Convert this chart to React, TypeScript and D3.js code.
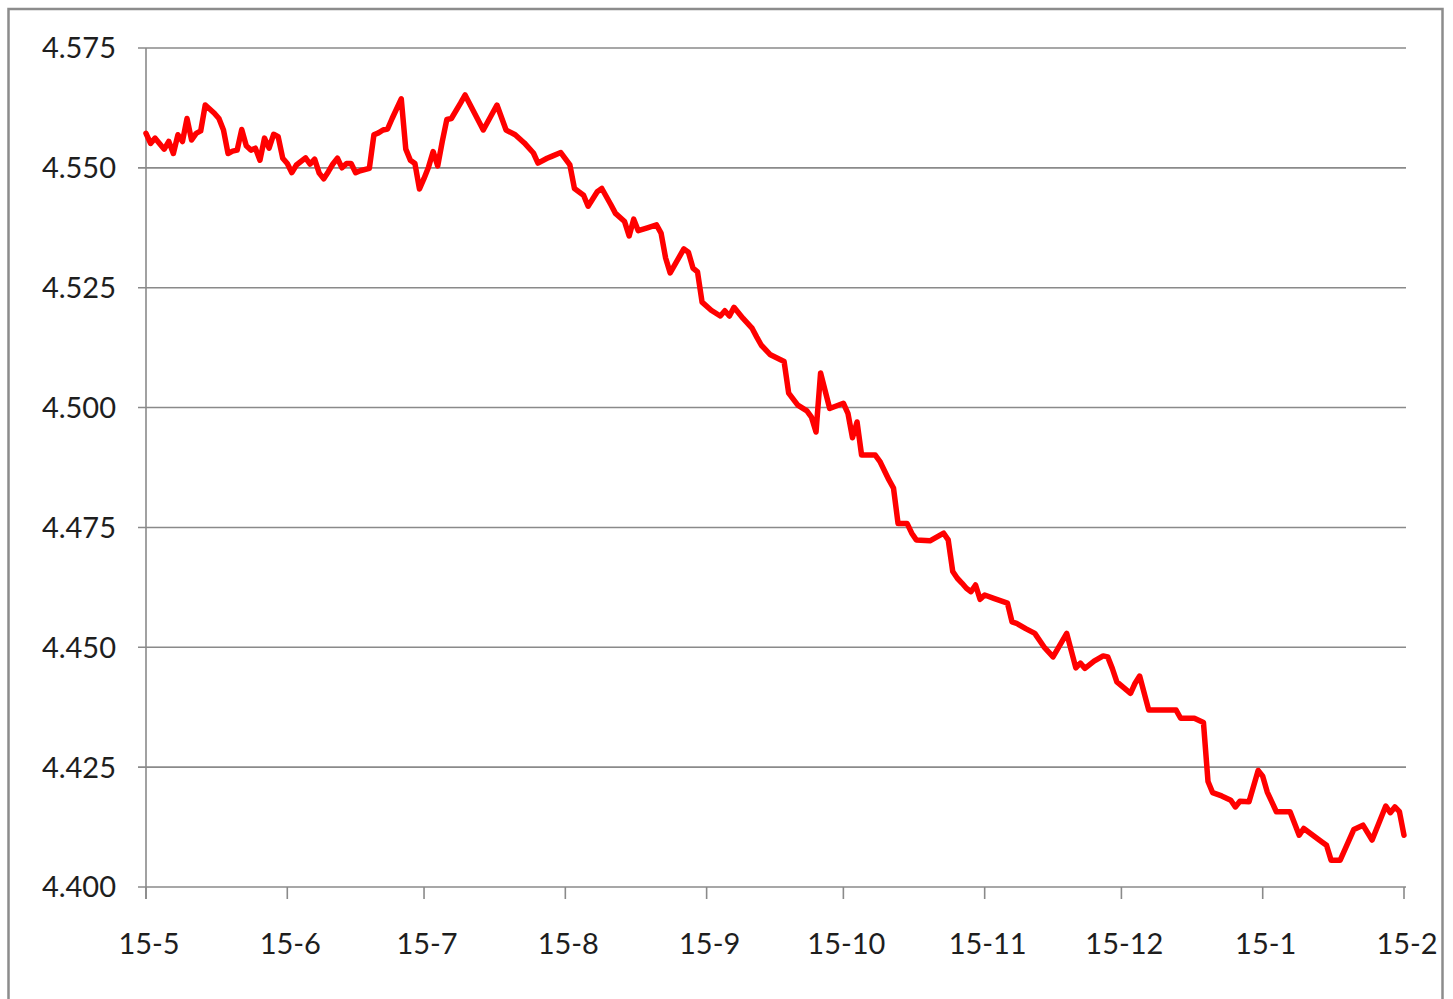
import { useEffect, useRef } from 'react';
import * as d3 from 'd3';

// daily values (2015-05 .. 2016-02)
const dates = [
  '2015-05-01', '2015-05-02', '2015-05-03', '2015-05-05', '2015-05-06', '2015-05-07', '2015-05-08', '2015-05-09',
  '2015-05-10', '2015-05-11', '2015-05-12', '2015-05-13', '2015-05-14', '2015-05-16', '2015-05-17', '2015-05-18',
  '2015-05-19', '2015-05-20', '2015-05-21', '2015-05-22', '2015-05-23', '2015-05-24', '2015-05-25', '2015-05-26',
  '2015-05-27', '2015-05-28', '2015-05-29', '2015-05-30', '2015-05-31', '2015-06-01', '2015-06-02', '2015-06-03',
  '2015-06-05', '2015-06-06', '2015-06-07', '2015-06-08', '2015-06-09', '2015-06-10', '2015-06-11', '2015-06-12',
  '2015-06-13', '2015-06-14', '2015-06-15', '2015-06-16', '2015-06-17', '2015-06-19', '2015-06-20', '2015-06-21',
  '2015-06-22', '2015-06-23', '2015-06-24', '2015-06-26', '2015-06-27', '2015-06-28', '2015-06-29', '2015-06-30',
  '2015-07-01', '2015-07-02', '2015-07-03', '2015-07-04', '2015-07-05', '2015-07-06', '2015-07-07', '2015-07-09',
  '2015-07-10', '2015-07-14', '2015-07-17', '2015-07-19', '2015-07-21', '2015-07-23', '2015-07-25', '2015-07-26',
  '2015-07-28', '2015-07-29', '2015-07-31', '2015-08-02', '2015-08-03', '2015-08-05', '2015-08-06', '2015-08-08',
  '2015-08-09', '2015-08-11', '2015-08-12', '2015-08-14', '2015-08-15', '2015-08-16', '2015-08-17', '2015-08-19',
  '2015-08-21', '2015-08-22', '2015-08-23', '2015-08-24', '2015-08-27', '2015-08-28', '2015-08-29', '2015-08-30',
  '2015-08-31', '2015-09-02', '2015-09-04', '2015-09-05', '2015-09-06', '2015-09-07', '2015-09-09', '2015-09-11',
  '2015-09-12', '2015-09-13', '2015-09-15', '2015-09-18', '2015-09-19', '2015-09-21', '2015-09-23', '2015-09-24',
  '2015-09-25', '2015-09-26', '2015-09-28', '2015-10-01', '2015-10-02', '2015-10-03', '2015-10-04', '2015-10-05',
  '2015-10-08', '2015-10-09', '2015-10-11', '2015-10-12', '2015-10-13', '2015-10-15', '2015-10-16', '2015-10-17',
  '2015-10-20', '2015-10-23', '2015-10-24', '2015-10-25', '2015-10-26', '2015-10-27', '2015-10-28', '2015-10-29',
  '2015-10-30', '2015-10-31', '2015-11-01', '2015-11-03', '2015-11-06', '2015-11-07', '2015-11-08', '2015-11-10',
  '2015-11-12', '2015-11-14', '2015-11-16', '2015-11-19', '2015-11-21', '2015-11-22', '2015-11-23', '2015-11-25',
  '2015-11-27', '2015-11-28', '2015-11-29', '2015-11-30', '2015-12-03', '2015-12-04', '2015-12-05', '2015-12-07',
  '2015-12-10', '2015-12-13', '2015-12-14', '2015-12-17', '2015-12-19', '2015-12-20', '2015-12-21', '2015-12-23',
  '2015-12-25', '2015-12-26', '2015-12-27', '2015-12-29', '2015-12-31', '2016-01-01', '2016-01-02', '2016-01-04',
  '2016-01-07', '2016-01-09', '2016-01-10', '2016-01-12', '2016-01-14', '2016-01-15', '2016-01-16', '2016-01-18',
  '2016-01-21', '2016-01-23', '2016-01-25', '2016-01-28', '2016-01-29', '2016-01-30', '2016-01-31', '2016-02-01',
];

const values = [
  4.5572, 4.5551, 4.5562, 4.5539, 4.5555, 4.5530, 4.5569, 4.5555,
  4.5603, 4.5558, 4.5572, 4.5577, 4.5631, 4.5614, 4.5603, 4.5579,
  4.5530, 4.5535, 4.5537, 4.5580, 4.5546, 4.5537, 4.5541, 4.5516,
  4.5562, 4.5541, 4.5570, 4.5565, 4.5520, 4.5509, 4.5490, 4.5506,
  4.5521, 4.5508, 4.5518, 4.5489, 4.5477, 4.5492, 4.5508, 4.5520,
  4.5500, 4.5509, 4.5509, 4.5490, 4.5494, 4.5499, 4.5569, 4.5573,
  4.5579, 4.5581, 4.5603, 4.5644, 4.5539, 4.5516, 4.5509, 4.5456,
  4.5478, 4.5502, 4.5534, 4.5504, 4.5555, 4.5601, 4.5603, 4.5635,
  4.5652, 4.5579, 4.5631, 4.5579, 4.5569, 4.5552, 4.5531, 4.5510,
  4.5520, 4.5524, 4.5532, 4.5506, 4.5457, 4.5443, 4.5420, 4.5450,
  4.5457, 4.5423, 4.5405, 4.5388, 4.5358, 4.5393, 4.5369, 4.5375,
  4.5381, 4.5364, 4.5312, 4.5281, 4.5331, 4.5324, 4.5291, 4.5283,
  4.5220, 4.5203, 4.5191, 4.5202, 4.5191, 4.5209, 4.5186, 4.5165,
  4.5147, 4.5130, 4.5110, 4.5096, 4.5030, 4.5005, 4.4993, 4.4980,
  4.4949, 4.5072, 4.4998, 4.5009, 4.4988, 4.4937, 4.4970, 4.4901,
  4.4901, 4.4888, 4.4849, 4.4832, 4.4758, 4.4758, 4.4738, 4.4724,
  4.4722, 4.4738, 4.4724, 4.4658, 4.4644, 4.4634, 4.4623, 4.4616,
  4.4630, 4.4600, 4.4609, 4.4602, 4.4592, 4.4553, 4.4550, 4.4539,
  4.4529, 4.4501, 4.4480, 4.4529, 4.4457, 4.4467, 4.4456, 4.4471,
  4.4482, 4.4480, 4.4456, 4.4428, 4.4404, 4.4425, 4.4440, 4.4369,
  4.4369, 4.4369, 4.4352, 4.4352, 4.4343, 4.4220, 4.4197, 4.4190,
  4.4181, 4.4167, 4.4179, 4.4178, 4.4243, 4.4231, 4.4198, 4.4157,
  4.4157, 4.4108, 4.4122, 4.4108, 4.4094, 4.4087, 4.4056, 4.4056,
  4.4120, 4.4129, 4.4098, 4.4169, 4.4155, 4.4167, 4.4157, 4.4108,
];

const yTicks = [4.4, 4.425, 4.45, 4.475, 4.5, 4.525, 4.55, 4.575];
const monthTicks = ['2015-05-01', '2015-06-01', '2015-07-01', '2015-08-01', '2015-09-01', '2015-10-01',
  '2015-11-01', '2015-12-01', '2016-01-01', '2016-02-01'];
const monthLabels = ['15-5', '15-6', '15-7', '15-8', '15-9', '15-10', '15-11', '15-12', '15-1', '15-2'];

const WIDTH = 1453;
const HEIGHT = 999;
const FONT = 'Lato, "Open Sans", sans-serif';
const GRID = '#8a8a8a';

export default function App() {
  const svgRef = useRef<SVGSVGElement | null>(null);

  useEffect(() => {
    if (!svgRef.current) return;
    const svg = d3.select(svgRef.current);
    svg.selectAll('*').remove();

    const parse = d3.utcParse('%Y-%m-%d');
    const data = dates.map((d, i) => ({ date: parse(d) as Date, value: values[i] }));

    const left = 146;
    const right = 1404;
    const top = 48;
    const bottom = 887;

    const x = d3.scaleUtc()
      .domain([parse(monthTicks[0]) as Date, parse(monthTicks[monthTicks.length - 1]) as Date])
      .range([left, right]);

    const y = d3.scaleLinear()
      .domain([4.4, 4.575])
      .range([bottom, top]);

    // outer frame
    svg.append('rect')
      .attr('x', 8.5)
      .attr('y', 9)
      .attr('width', 1434)
      .attr('height', 1010)
      .attr('fill', 'none')
      .attr('stroke', '#8c8c8c')
      .attr('stroke-width', 2.5);

    // horizontal gridlines + y ticks
    svg.append('g')
      .selectAll('line')
      .data(yTicks)
      .join('line')
      .attr('x1', left - 8)
      .attr('x2', 1406)
      .attr('y1', d => y(d))
      .attr('y2', d => y(d))
      .attr('stroke', GRID)
      .attr('stroke-width', 1.6);

    // y axis line
    svg.append('line')
      .attr('x1', left)
      .attr('x2', left)
      .attr('y1', top)
      .attr('y2', bottom + 12)
      .attr('stroke', GRID)
      .attr('stroke-width', 1.6);

    // x ticks
    svg.append('g')
      .selectAll('line')
      .data(monthTicks)
      .join('line')
      .attr('x1', d => x(parse(d) as Date))
      .attr('x2', d => x(parse(d) as Date))
      .attr('y1', bottom)
      .attr('y2', bottom + 12)
      .attr('stroke', GRID)
      .attr('stroke-width', 1.6);

    // y labels
    svg.append('g')
      .selectAll('text')
      .data(yTicks)
      .join('text')
      .attr('x', 116)
      .attr('y', d => y(d))
      .attr('dy', '0.36em')
      .attr('text-anchor', 'end')
      .attr('font-family', FONT)
      .attr('font-size', 29)
      .attr('fill', '#1e1e1e')
      .text(d => d3.format('.3f')(d));

    // x labels
    svg.append('g')
      .selectAll('text')
      .data(monthTicks)
      .join('text')
      .attr('x', d => x(parse(d) as Date) + 3)
      .attr('y', 944)
      .attr('dy', '0.36em')
      .attr('text-anchor', 'middle')
      .attr('font-family', FONT)
      .attr('font-size', 29)
      .attr('fill', '#1e1e1e')
      .text((d, i) => monthLabels[i]);

    // the series
    const line = d3.line<{ date: Date; value: number }>()
      .x(d => x(d.date))
      .y(d => y(d.value));

    svg.append('path')
      .datum(data)
      .attr('fill', 'none')
      .attr('stroke', '#ff0000')
      .attr('stroke-width', 5.5)
      .attr('stroke-linejoin', 'round')
      .attr('stroke-linecap', 'round')
      .attr('d', line);
  }, []);

  return (
    <div style={{ position: 'absolute', left: 0, top: 0, width: WIDTH, height: HEIGHT, background: '#fff' }}>
      <svg ref={svgRef} width={WIDTH} height={HEIGHT} style={{ display: 'block' }} />
    </div>
  );
}
